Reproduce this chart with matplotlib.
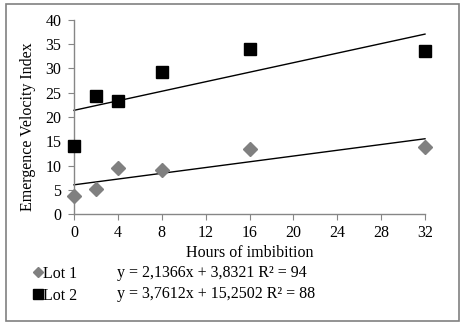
import numpy as np
import matplotlib.pyplot as plt
from matplotlib.patches import Rectangle
from matplotlib.lines import Line2D

# values
hours = [0, 2, 4, 8, 16, 32]
lot1 = [3.7, 5.1, 9.5, 9.0, 13.3, 13.9]
lot2 = [14.1, 24.4, 23.4, 29.2, 34.0, 33.6]
eq1 = 'y = 2,1366x + 3,8321 R² = 94'
eq2 = 'y = 3,7612x + 15,2502 R² = 88'
xticks = [0, 4, 8, 12, 16, 20, 24, 28, 32]
yticks = [0, 5, 10, 15, 20, 25, 30, 35, 40]

plt.rcParams['font.family'] = ['Liberation Serif', 'DejaVu Serif']
fs = 11.5
plt.rcParams['font.size'] = fs

fig = plt.figure(figsize=(4.63, 3.24), dpi=100)
W, H = 463, 324
ax = fig.add_axes([74 / W, 1 - 214 / H, (425 - 74) / W, (214 - 20) / H])

grey = '#808080'
ax.plot(hours, lot1, 'D', color=grey, markersize=7.5, linestyle='none', zorder=3)
ax.plot(hours, lot2, 's', color='black', markersize=8, linestyle='none', zorder=3)

# linear trend lines
xs = np.array([hours[0], hours[-1]])
for ys in (lot1, lot2):
    k, b = np.polyfit(hours, ys, 1)
    ax.plot(xs, k * xs + b, color='black', linewidth=1.0, zorder=2)

ax.set_xlim(0, 32)
ax.set_ylim(0, 40)
ax.set_xticks(xticks)
ax.set_yticks(yticks)
for s in ('top', 'right'):
    ax.spines[s].set_visible(False)
for s in ('left', 'bottom'):
    ax.spines[s].set_color('#868686')
    ax.spines[s].set_linewidth(1.0)
ax.tick_params(direction='out', length=4, color='#868686', labelsize=fs)
ax.tick_params(axis='x', pad=4)
ax.tick_params(axis='y', pad=5)
for ln in ax.lines:
    ln.set_clip_on(False)

ax.set_xlabel('Hours of imbibition', labelpad=3)
ax.set_ylabel('Emergence Velocity Index')
ax.yaxis.set_label_coords(-0.131, 0.45)
ax.yaxis.label.set_verticalalignment('center')

# legend block under the plot
h1 = Line2D([], [], marker='D', color=grey, markersize=5, linestyle='none')
h2 = Line2D([], [], marker='s', color='black', markersize=7.5, linestyle='none')
fig.legend([h1, h2], ['Lot 1', 'Lot 2'], loc='upper left',
           bbox_to_anchor=(33 / W, 1 - 266 / H), frameon=False,
           handlelength=0.6, handletextpad=0.05, labelspacing=0.35,
           borderpad=0, borderaxespad=0, fontsize=fs)
fig.text(117 / W, 1 - 273 / H, eq1, va='center', ha='left', fontsize=fs)
fig.text(117 / W, 1 - 294 / H, eq2, va='center', ha='left', fontsize=fs)

fig.patches.append(Rectangle((6 / W, 3 / H), (459 - 6) / W, (320 - 3) / H,
                             transform=fig.transFigure, fill=False,
                             edgecolor=grey, linewidth=1.2))

fig.savefig('out.png', dpi=100)
